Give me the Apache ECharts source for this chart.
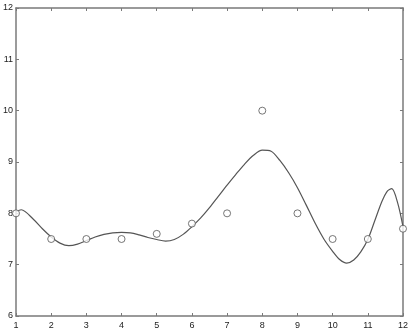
<!DOCTYPE html>
<html>
<head>
<meta charset="utf-8">
<script src="https://cdn.jsdelivr.net/npm/echarts@6/dist/echarts.min.js"></script>
<style>
  html, body { margin: 0; padding: 0; background: #fff; }
  #chart { width: 411px; height: 333px; }
</style>
</head>
<body>
<div id="chart"></div>
<script>
// observed points
const pointX = [1, 2, 3, 4, 5, 6, 7, 8, 9, 10, 11, 12];
const pointY = [8, 7.5, 7.5, 7.5, 7.6, 7.8, 8, 10, 8, 7.5, 7.5, 7.7];

// fitted curve
const curveX = [1, 1.15, 1.5, 1.75, 2, 2.25, 2.5, 2.75, 3, 3.25, 3.5, 3.75, 4, 4.25, 4.5, 4.75,
    5, 5.25, 5.5, 5.75, 6, 6.25, 6.5, 6.75, 7, 7.25, 7.5, 7.75, 8, 8.25, 8.5, 8.75,
    9, 9.25, 9.5, 9.75, 10, 10.2, 10.4, 10.6, 10.8, 11, 11.2, 11.4, 11.55, 11.68, 11.85, 12];
const curveY = [8.03, 8.07, 7.88, 7.70, 7.54, 7.42, 7.37, 7.40, 7.47, 7.54, 7.59, 7.62, 7.63, 7.62, 7.58, 7.53,
    7.49, 7.46, 7.49, 7.59, 7.74, 7.91, 8.11, 8.33, 8.55, 8.76, 8.96, 9.13, 9.23, 9.21, 9.03, 8.79,
    8.50, 8.16, 7.81, 7.50, 7.26, 7.10, 7.03, 7.09, 7.25, 7.49, 7.86, 8.23, 8.43, 8.48, 8.20, 7.74];

const xTicks = [1, 12, 1];   // min, max, step
const yTicks = [6, 12, 1];

const frame = '#7a7a7a';
const font = 'Liberation Sans, Arial, sans-serif';

function axisBase(ticks, showLabel, margin) {
    return {
        type: 'value',
        min: ticks[0],
        max: ticks[1],
        interval: ticks[2],
        axisLine: { show: true, lineStyle: { color: frame, width: 1.5 } },
        axisTick: { show: true, inside: true, length: 3, lineStyle: { color: frame } },
        splitLine: { show: false },
        axisLabel: {
            show: showLabel,
            color: '#222',
            fontSize: 9,
            fontFamily: font,
            margin: margin
        }
    };
}

const chart = echarts.init(document.getElementById('chart'));
chart.setOption({
    animation: false,
    grid: { left: 13, right: 7, top: 8, bottom: 17 },
    xAxis: [
        Object.assign(axisBase(xTicks, true, 5), { position: 'bottom' }),
        Object.assign(axisBase(xTicks, false, 5), { position: 'top' })
    ],
    yAxis: [
        Object.assign(axisBase(yTicks, true, 3), { position: 'left' }),
        Object.assign(axisBase(yTicks, false, 3), { position: 'right' })
    ],
    series: [
        {
            type: 'line',
            data: curveX.map((x, i) => [x, curveY[i]]),
            smooth: 0.3,
            showSymbol: false,
            lineStyle: { color: '#555', width: 1.2 },
            z: 2
        },
        {
            type: 'scatter',
            data: pointX.map((x, i) => [x, pointY[i]]),
            symbol: 'circle',
            symbolSize: 7,
            itemStyle: { color: '#fff', borderColor: '#555', borderWidth: 1 },
            z: 3
        }
    ]
});
</script>
</body>
</html>
